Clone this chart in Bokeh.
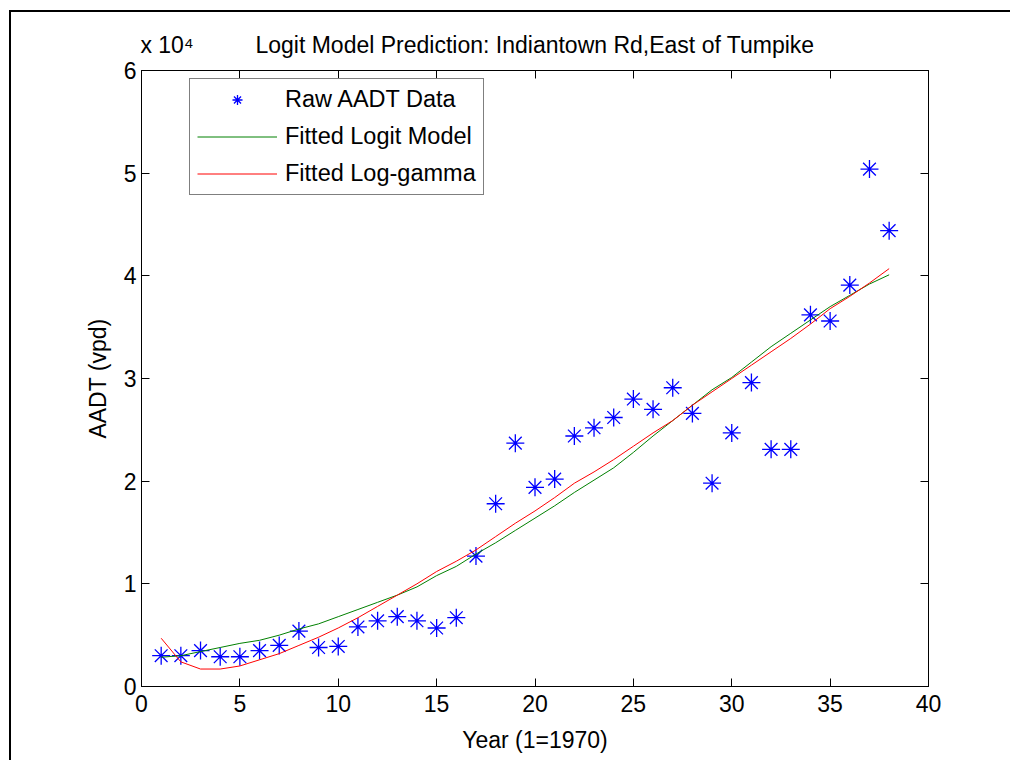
from bokeh.plotting import figure
from bokeh.models import LinearAxis, Range1d, Legend, FixedTicker
from bokeh.embed import file_html
from bokeh.resources import INLINE

# ---- data ----
years = list(range(1, 39))
raw_aadt = [3000, 3000, 3500, 2900, 2900, 3500, 4000, 5400, 3800, 3900,
            5800, 6400, 6800, 6400, 5700, 6700, 12700, 17800, 23700, 19400,
            20200, 24400, 25200, 26200, 28000, 27000, 29100, 26600, 19800, 24700,
            29600, 23100, 23100, 36200, 35600, 39100, 50400, 44400]
logit_fit = [2850, 3000, 3400, 3800, 4200, 4500, 5000, 5600, 6100, 6800,
             7500, 8200, 8900, 9700, 10800, 11700, 12900, 14000, 15200, 16400,
             17600, 18900, 20100, 21300, 22800, 24400, 25900, 27400, 28900, 30100,
             31600, 33100, 34400, 35700, 37000, 38100, 39200, 40100]
loggamma_fit = [4700, 2400, 1700, 1700, 2000, 2600, 3200, 4000, 4800, 5700,
                6700, 7800, 8900, 10000, 11200, 12200, 13300, 14600, 15900, 17100,
                18400, 19800, 20900, 22100, 23400, 24700, 25900, 27400, 28700, 30000,
                31300, 32600, 33900, 35300, 36800, 38000, 39300, 40700]
x_ticks = [0, 5, 10, 15, 20, 25, 30, 35, 40]
y_ticks = [0, 10000, 20000, 30000, 40000, 50000, 60000]
y_tick_labels = ["0", "1", "2", "3", "4", "5", "6"]
title_text = "Logit Model Prediction: Indiantown Rd,East of Tumpike"
exponent_text = "x 10\u2074"

FONT = "Liberation Sans"
FS = "23px"

p = figure(width=1001, height=750, output_backend="svg", toolbar_location=None,
           x_range=Range1d(0, 40), y_range=Range1d(0, 60000),
           min_border_left=130, min_border_right=84, min_border_top=58,
           min_border_bottom=76)
p.styles = {"margin-left": "9px", "margin-top": "10px",
            "border-top": "2px solid black", "border-left": "2px solid black"}
p.title.visible = False

p.xgrid.visible = False
p.ygrid.visible = False
p.outline_line_color = "black"
p.outline_line_width = 1
p.background_fill_color = "white"
p.border_fill_color = "white"


def style_axis(ax):
    ax.axis_line_color = "black"
    ax.axis_line_width = 1
    ax.major_tick_in = 8
    ax.major_tick_out = 0
    ax.minor_tick_line_color = None
    ax.major_tick_line_color = "black"
    ax.major_label_text_font = FONT
    ax.major_label_text_font_size = FS
    ax.major_label_text_color = "black"
    ax.axis_label_text_font = FONT
    ax.axis_label_text_font_size = FS
    ax.axis_label_text_font_style = "normal"
    ax.axis_label_text_color = "black"


xax = p.xaxis[0]
yax = p.yaxis[0]
xax.ticker = FixedTicker(ticks=x_ticks)
yax.ticker = FixedTicker(ticks=y_ticks)
yax.major_label_overrides = {t: s for t, s in zip(y_ticks, y_tick_labels)}
style_axis(xax)
style_axis(yax)
xax.axis_label = "Year (1=1970)"
yax.axis_label = "AADT (vpd)"
xax.major_label_standoff = 8
yax.major_label_standoff = 5
xax.axis_label_standoff = 12
yax.axis_label_standoff = 10

# box ticks on top and right (no labels)
top = LinearAxis(ticker=FixedTicker(ticks=x_ticks))
style_axis(top)
top.major_label_overrides = {t: "" for t in x_ticks}
top.major_label_standoff = 0
p.add_layout(top, "above")
right = LinearAxis(ticker=FixedTicker(ticks=y_ticks))
style_axis(right)
right.major_label_overrides = {t: "" for t in y_ticks}
right.major_label_standoff = 0
p.add_layout(right, "right")

# text row above the plot: exponent marker and title
head_ticks = [1.3, 20]
head = LinearAxis(ticker=FixedTicker(ticks=head_ticks))
style_axis(head)
head.axis_line_color = None
head.major_tick_line_color = None
head.major_tick_in = 0
head.major_label_overrides = {1.3: exponent_text, 20: title_text}
head.major_label_standoff = 13
p.add_layout(head, "above")

sc = p.scatter(years, raw_aadt, marker="asterisk", size=18,
               line_color="#0000ff", line_width=1.3)
gl = p.line(years, logit_fit, line_color="#008000", line_width=1)
rl = p.line(years, loggamma_fit, line_color="#ff0000", line_width=1)

legend = Legend(items=[("Raw AADT Data", [sc]),
                       ("Fitted Logit Model", [gl]),
                       ("Fitted Log-gamma", [rl])],
                location=(48, 491))
legend.label_text_font = FONT
legend.label_text_font_size = "23.5px"
legend.label_text_color = "black"
legend.glyph_width = 80
legend.glyph_height = 25
legend.label_height = 25
legend.label_standoff = 8
legend.spacing = 10
legend.padding = 7
legend.margin = 0
legend.border_line_color = "black"
legend.border_line_width = 1
legend.background_fill_color = "white"
legend.background_fill_alpha = 1
p.add_layout(legend)

open("out.html", "w").write(file_html(p, INLINE))
